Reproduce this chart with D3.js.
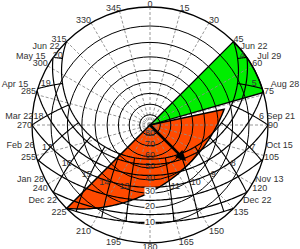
<!DOCTYPE html>
<html><head><meta charset="utf-8">
<script src="https://cdn.jsdelivr.net/npm/d3@7"></script>
<style>
body{margin:0;background:#fff}
svg{display:block}
text{font-family:"Liberation Sans",Arial,sans-serif;font-size:9px;fill:#333}
</style></head>
<body><svg id="chart" width="300" height="249"></svg>
<script>
// ---- data ----
const latitude = 55.7;
const azimuthLabels = [0,15,30,45,60,75,90,105,120,135,150,165,180,195,210,225,240,255,270,285,300,315,330,345];
const altitudeLabels = [10,20,30,40,50,60,70,80];
const declinations = [23.44, 18.7, 9.4, 0, -9.4, -18.7, -23.44];
const sunriseDates = ["Jun 22","Jul 29","Aug 28","Sep 21","Oct 15","Nov 13","Dec 22"];
const sunsetDates  = ["Jun 22","May 15","Apr 15","Mar 22","Feb 26","Jan 28","Dec 22"];
const hourLabels = [4,5,6,7,8,9,10,11,13,14,15,16,17,18,19,20];
const greenSector = [45, 74];
const orangeSector = [78, 225];
const overhangProfile = 40;
const facadeAzimuth = 135;
const arrowAltitude = 45;

// ---- layout ----
const W = 300, cx = 150, cy = 125, R = 118;
const rad = Math.PI/180;
const svg = d3.select("#chart");
const rScale = d3.scaleLinear().domain([0,1]).range([0,R]);       // stereographic tan((90-alt)/2)
const aScale = d3.scaleLinear().domain([0,360]).range([0,2*Math.PI]);
const radius = alt => rScale(Math.tan((90-alt)/2*rad));
function proj(alt, az){
  const r = radius(alt), a = aScale(az);
  return [cx + r*Math.sin(a), cy - r*Math.cos(a)];
}
function sun(decl, H){
  const p = latitude*rad, d = decl*rad, h = H*rad;
  const sa = Math.sin(p)*Math.sin(d) + Math.cos(p)*Math.cos(d)*Math.cos(h);
  const alt = Math.asin(sa);
  let c = (Math.sin(d) - sa*Math.sin(p))/(Math.cos(alt)*Math.cos(p));
  c = Math.max(-1, Math.min(1, c));
  let az = Math.acos(c)/rad;
  if (H > 0) az = 360 - az;
  return {alt: alt/rad, az};
}
const line = d3.line();
const g = svg.append("g");
const sectorArc = d3.arc()({innerRadius:0, outerRadius:R, startAngle:aScale(greenSector[0]), endAngle:aScale(greenSector[1])});

// ---- green sector ----
g.append("path").attr("transform", `translate(${cx},${cy})`).attr("d", sectorArc).attr("fill", "#00ee00");

// ---- orange region (overhang shading) ----
const profAlt = az => Math.atan(Math.tan(overhangProfile*rad)*Math.cos((az-facadeAzimuth)*rad))/rad;
const orangePts = [[cx,cy]];
for (let az = orangeSector[0]; az <= orangeSector[1] + 1e-9; az += 1) orangePts.push(proj(Math.max(0,profAlt(az)), az));
g.append("path").attr("d", line(orangePts) + "Z").attr("fill", "#ff4a00");

// ---- radial gridlines ----
g.selectAll(".radial").data(azimuthLabels).enter().append("line")
  .attr("x1", cx).attr("y1", cy)
  .attr("x2", d => proj(0,d)[0]).attr("y2", d => proj(0,d)[1])
  .attr("stroke", "#8c8c8c").attr("stroke-width", 0.9).attr("stroke-dasharray", "3,2");

// ---- altitude rings ----
g.selectAll(".ring").data([0].concat(altitudeLabels)).enter().append("circle")
  .attr("cx", cx).attr("cy", cy).attr("r", d => radius(d))
  .attr("fill", "none").attr("stroke", "#000").attr("stroke-width", d => d === 0 ? 1.3 : 1);

// ---- date curves ----
declinations.forEach(dec => {
  const Hs = Math.acos(-Math.tan(latitude*rad)*Math.tan(dec*rad))/rad;
  const pts = [];
  for (let i = 0; i <= 120; i++) {
    const H = -Hs + 2*Hs*i/120;
    const s = sun(dec, H);
    pts.push(proj(Math.max(0, s.alt), s.az));
  }
  g.append("path").attr("d", line(pts)).attr("fill","none").attr("stroke","#000").attr("stroke-width",1.2);
});

// ---- hour lines ----
const dMax = declinations[0], dMin = declinations[declinations.length-1];
const hourLabelPts = [];
hourLabels.forEach(hr => {
  const H = (hr-12)*15;
  const dh = Math.atan(-Math.cos(H*rad)/Math.tan(latitude*rad))/rad;
  const lo = Math.max(dMin, dh);
  if (lo >= dMax) return;
  const pts = [];
  for (let i = 0; i <= 60; i++) {
    const d = lo + (dMax-lo)*i/60;
    const s = sun(d, H);
    pts.push(proj(Math.max(0,s.alt), s.az));
  }
  g.append("path").attr("d", line(pts)).attr("fill","none").attr("stroke","#000").attr("stroke-width",1.1);
  const low = dh > -6;
  const dl = low ? Math.min(dMax - 0.6, dh + 6) : Math.max(0, dh + 4);
  const s = sun(dl, H);
  hourLabelPts.push({hr, p: proj(s.alt, s.az), right: hr < 12, low});
});

// ---- outlines of shaded regions ----
g.append("path").attr("transform", `translate(${cx},${cy})`).attr("d", sectorArc)
  .attr("fill", "none").attr("stroke","#000").attr("stroke-width",1.3);
g.append("path").attr("d", line(orangePts) + "Z").attr("fill", "none").attr("stroke","#000").attr("stroke-width",1.4);

// ---- altitude labels ----
altitudeLabels.forEach(a => {
  const y = cy + radius(a) - 2;
  const t = g.append("text").attr("x", cx).attr("y", y).attr("dy","0.35em").attr("text-anchor","middle").text(a);
  const b = t.node().getBBox();
  if (a <= 30) g.insert("rect", () => t.node()).attr("x", b.x-0.5).attr("y", b.y+1).attr("width", b.width+1).attr("height", b.height-2).attr("fill","#fff");
});

// ---- azimuth labels ----
const azBoxes = [];
azimuthLabels.forEach(az => {
  const [px, py] = proj(0, az);
  const s = Math.sin(az*rad), c = Math.cos(az*rad);
  const t = g.append("text").text(az);
  const w = t.node().getComputedTextLength();
  const k = Math.sign(s)*Math.min(1, Math.abs(s)*3);
  t.attr("x", px - w/2 + k*w/2);
  let base = py;
  if (Math.abs(c) < 0.01) base = py + 3.2;
  else if (c < 0) base = py + 6.5*Math.min(1, Math.abs(c)*2.5);
  t.attr("y", base);
  azBoxes.push({x: px - w/2 + k*w/2, y: base - 6.5, width: w, height: 6.5});
});

// ---- date labels (pushed outward until clear of azimuth labels) ----
const hit = (a, b) => a.x < b.x + b.width && b.x < a.x + a.width && a.y < b.y + b.height && b.y < a.y + a.height;
declinations.forEach((dec, i) => {
  const Hs = Math.acos(-Math.tan(latitude*rad)*Math.tan(dec*rad))/rad;
  const u = sun(dec, -Hs).az - 90;
  const azR = 86 + 0.757*u + 2.5e-5*u*u*u + 7e-7*u*u*u*u;
  [[azR, sunriseDates[i]], [360 - azR, sunsetDates[i]]].forEach(([a, lbl]) => {
    const t = g.append("text").attr("dy","0.35em").attr("text-anchor","middle").text(lbl);
    const w = t.node().getComputedTextLength();
    for (let rr = R + 13; rr < R + 34; rr += 1) {
      const x = Math.max(w/2, Math.min(W - w/2, cx + rr*Math.sin(aScale(a))));
      const y = cy - rr*Math.cos(aScale(a));
      t.attr("x", x).attr("y", y);
      const box = {x: x - w/2 - 1, y: y - 3.4, width: w + 2, height: 7};
      if (!azBoxes.some(o => hit(box, o))) break;
    }
  });
});

// ---- hour labels (mirror-symmetric placement about the meridian) ----
const probe = g.append("text").attr("visibility","hidden");
const textW = s => { probe.text(s); return probe.node().getComputedTextLength(); };
hourLabelPts.forEach(d => {
  const off = 1 + textW(String(d.right ? d.hr : 24 - d.hr))/2;
  g.append("text").attr("x", d.p[0] + (d.right ? off : -off)).attr("y", d.p[1])
    .attr("dy", d.low ? "0em" : "0.35em").attr("text-anchor", "middle").text(d.hr);
});
probe.remove();

// ---- facade arrow ----
svg.append("defs").append("marker").attr("id","ah")
  .attr("viewBox","0 0 10 10").attr("refX",8).attr("refY",5)
  .attr("markerWidth",4.4).attr("markerHeight",4).attr("orient","auto")
  .append("path").attr("d","M0,0L10,5L0,10Z").attr("fill","#000");
const tip = proj(arrowAltitude, facadeAzimuth);
g.append("line").attr("x1",cx).attr("y1",cy).attr("x2",tip[0]).attr("y2",tip[1])
  .attr("stroke","#000").attr("stroke-width",2.6).attr("marker-end","url(#ah)");
</script></body></html>
